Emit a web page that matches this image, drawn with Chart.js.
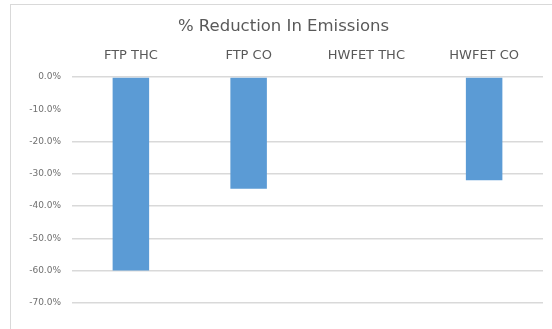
<!DOCTYPE html>
<html>
<head>
<meta charset="utf-8">
<script src="https://cdn.jsdelivr.net/npm/chart.js@4.4.1/dist/chart.umd.min.js"></script>
<style>
  html, body { margin: 0; padding: 0; background: #fff; }
  #wrap { position: relative; width: 552px; height: 329px; }
</style>
</head>
<body>
<div id="wrap"><canvas id="c" width="552" height="329"></canvas></div>
<script>
// Emission test cycles and the percentage change measured for each
const categories = ['FTP THC', 'FTP CO', 'HWFET THC', 'HWFET CO'];
const reductionPct = [-59.9, -34.6, 0, -32.0];
const tickValues = [0, -10, -20, -30, -40, -50, -60, -70];

const GRID = '#d9d9d9';
const TEXT = '#595959';
const FONT = "'DejaVu Sans', 'Liberation Sans', sans-serif";

// White background plus the light outline of the chart box
const frame = {
  id: 'frame',
  beforeDraw(chart) {
    const c = chart.ctx;
    c.save();
    c.fillStyle = '#fff';
    c.fillRect(0, 0, chart.width, chart.height);
    c.strokeStyle = GRID;
    c.lineWidth = 1;
    c.strokeRect(10.5, 4.5, chart.width + 20, chart.height + 20);
    c.restore();
  }
};

new Chart(document.getElementById('c'), {
  type: 'bar',
  data: {
    labels: categories,
    datasets: [{
      data: reductionPct,
      backgroundColor: '#5b9bd5',
      borderWidth: 0,
      categoryPercentage: 1,
      barPercentage: 0.31
    }]
  },
  plugins: [frame],
  options: {
    responsive: false,
    animation: false,
    layout: { padding: { top: 4, left: 24, right: 9, bottom: 26 } },
    plugins: {
      legend: { display: false },
      tooltip: { enabled: false },
      title: {
        display: true,
        text: '% Reduction In Emissions',
        color: TEXT,
        font: { family: FONT, size: 16.5, weight: 'normal' },
        padding: { top: 13, bottom: 8 }
      }
    },
    scales: {
      x: {
        position: 'top',
        grid: { display: false, drawTicks: false },
        border: { display: false },
        ticks: {
          color: TEXT,
          padding: 14,
          font: { family: FONT, size: 13 }
        },
        afterFit(scale) { scale.height = 32.2; }
      },
      y: {
        min: -70,
        max: 0,
        afterBuildTicks(scale) {
          scale.ticks = tickValues.map(v => ({ value: v }));
        },
        grid: {
          drawTicks: false,
          lineWidth: 1.5,
          color: ctx => (ctx.tick && ctx.tick.value === -10) ? 'rgba(0,0,0,0)' : GRID
        },
        border: { display: false },
        ticks: {
          color: '#6f6f6f',
          padding: 11,
          font: { family: FONT, size: 9 },
          callback: v => v.toFixed(1) + '%'
        },
        afterFit(scale) { scale.width = 48; }
      }
    }
  }
});
</script>
</body>
</html>
